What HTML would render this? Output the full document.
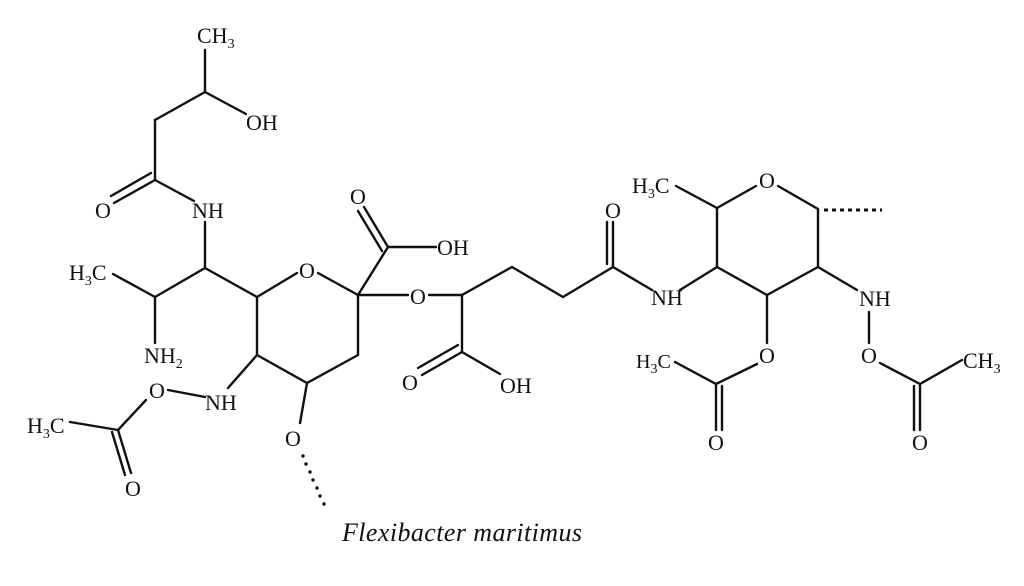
<!DOCTYPE html>
<html><head><meta charset="utf-8"><style>
html,body{margin:0;padding:0;background:#fff;}
svg{display:block;}
text{font-family:"Liberation Serif",serif;font-size:22px;fill:#111;}
.s{font-size:14px;}
.m{text-anchor:middle;}
</style></head><body>
<svg width="1024" height="586" viewBox="0 0 1024 586" xmlns="http://www.w3.org/2000/svg">
<g stroke="#111" stroke-width="2.4" fill="none" stroke-linecap="round">
<line x1="205" y1="50" x2="205" y2="92"/>
<line x1="205" y1="92" x2="246" y2="114"/>
<line x1="205" y1="92" x2="155" y2="120"/>
<line x1="155" y1="120" x2="155" y2="180"/>
<line x1="155" y1="180" x2="114" y2="203"/>
<line x1="151" y1="173" x2="111" y2="196"/>
<line x1="155" y1="180" x2="194" y2="201"/>
<line x1="205" y1="222" x2="205" y2="268"/>
<line x1="205" y1="268" x2="155" y2="297"/>
<line x1="155" y1="297" x2="113" y2="274"/>
<line x1="155" y1="297" x2="155" y2="343"/>
<line x1="205" y1="268" x2="257" y2="297"/>
<line x1="257" y1="297" x2="297" y2="273"/>
<line x1="318" y1="273" x2="358" y2="295"/>
<line x1="257" y1="297" x2="257" y2="355"/>
<line x1="257" y1="355" x2="228" y2="388"/>
<line x1="257" y1="355" x2="307" y2="383"/>
<line x1="307" y1="383" x2="358" y2="355"/>
<line x1="358" y1="355" x2="358" y2="295"/>
<line x1="307" y1="383" x2="300" y2="423"/>
<line x1="205" y1="397" x2="168" y2="390"/>
<line x1="146" y1="400" x2="118" y2="430"/>
<line x1="118" y1="430" x2="70" y2="422"/>
<line x1="118" y1="430" x2="131" y2="473"/>
<line x1="112" y1="432" x2="125" y2="475"/>
<line x1="358" y1="295" x2="388" y2="247"/>
<line x1="388" y1="247" x2="364" y2="207"/>
<line x1="382" y1="251" x2="358" y2="211"/>
<line x1="388" y1="247" x2="436" y2="247"/>
<line x1="358" y1="295" x2="408" y2="295"/>
<line x1="429" y1="295" x2="462" y2="295"/>
<line x1="462" y1="295" x2="462" y2="352"/>
<line x1="462" y1="352" x2="422" y2="375"/>
<line x1="458" y1="345" x2="418" y2="368"/>
<line x1="462" y1="352" x2="500" y2="374"/>
<line x1="462" y1="295" x2="512" y2="267"/>
<line x1="512" y1="267" x2="563" y2="297"/>
<line x1="563" y1="297" x2="613" y2="267"/>
<line x1="613" y1="267" x2="613" y2="222"/>
<line x1="607" y1="264" x2="607" y2="222"/>
<line x1="613" y1="267" x2="652" y2="290"/>
<line x1="680" y1="290" x2="717" y2="267"/>
<line x1="717" y1="267" x2="717" y2="208"/>
<line x1="717" y1="208" x2="676" y2="186"/>
<line x1="717" y1="208" x2="756" y2="186"/>
<line x1="778" y1="186" x2="818" y2="209"/>
<line x1="818" y1="209" x2="818" y2="267"/>
<line x1="818" y1="267" x2="767" y2="295"/>
<line x1="767" y1="295" x2="717" y2="267"/>
<line x1="767" y1="295" x2="767" y2="343"/>
<line x1="757" y1="364" x2="716" y2="384"/>
<line x1="716" y1="384" x2="675" y2="362"/>
<line x1="716" y1="384" x2="716" y2="430"/>
<line x1="722" y1="386" x2="722" y2="430"/>
<line x1="818" y1="267" x2="857" y2="290"/>
<line x1="869" y1="312" x2="869" y2="343"/>
<line x1="880" y1="363" x2="920" y2="384"/>
<line x1="920" y1="384" x2="962" y2="360"/>
<line x1="920" y1="384" x2="920" y2="430"/>
<line x1="914" y1="386" x2="914" y2="430"/>
</g>
<g fill="#111">
<circle cx="303" cy="456" r="1.7"/><circle cx="306" cy="464" r="1.7"/><circle cx="310" cy="472" r="1.7"/><circle cx="313" cy="480" r="1.7"/><circle cx="317" cy="488" r="1.7"/><circle cx="320" cy="496" r="1.7"/><circle cx="324" cy="504" r="1.7"/>
</g>
<line x1="824" y1="210" x2="882" y2="210" stroke="#111" stroke-width="3" stroke-dasharray="4,4"/>
<text x="197" y="43">CH<tspan class="s" dy="5">3</tspan></text>
<text x="246" y="130">OH</text>
<text class="m" x="103" y="218">O</text>
<text x="192" y="218">NH</text>
<text x="69" y="280">H<tspan class="s" dy="5">3</tspan><tspan dy="-5">C</tspan></text>
<text class="m" x="307" y="278">O</text>
<text x="144" y="363">NH<tspan class="s" dy="5">2</tspan></text>
<text class="m" x="157" y="398">O</text>
<text x="205" y="410">NH</text>
<text x="27" y="433">H<tspan class="s" dy="5">3</tspan><tspan dy="-5">C</tspan></text>
<text class="m" x="133" y="496">O</text>
<text class="m" x="293" y="446">O</text>
<text class="m" x="358" y="204">O</text>
<text x="437" y="255">OH</text>
<text class="m" x="418" y="304">O</text>
<text class="m" x="410" y="390">O</text>
<text x="500" y="393">OH</text>
<text class="m" x="613" y="218">O</text>
<text x="651" y="305">NH</text>
<text x="632" y="193">H<tspan class="s" dy="5">3</tspan><tspan dy="-5">C</tspan></text>
<text class="m" x="767" y="188">O</text>
<text x="859" y="306">NH</text>
<text class="m" x="869" y="363">O</text>
<text x="636" y="368" style="font-size:20px">H<tspan class="s" dy="5">3</tspan><tspan dy="-5">C</tspan></text>
<text class="m" x="767" y="363">O</text>
<text x="963" y="368">CH<tspan class="s" dy="5">3</tspan></text>
<text class="m" x="716" y="450">O</text>
<text class="m" x="920" y="450">O</text>
<text x="342" y="541" textLength="240" style="font-size:26px;font-style:italic;">Flexibacter maritimus</text>
</svg>
</body></html>
